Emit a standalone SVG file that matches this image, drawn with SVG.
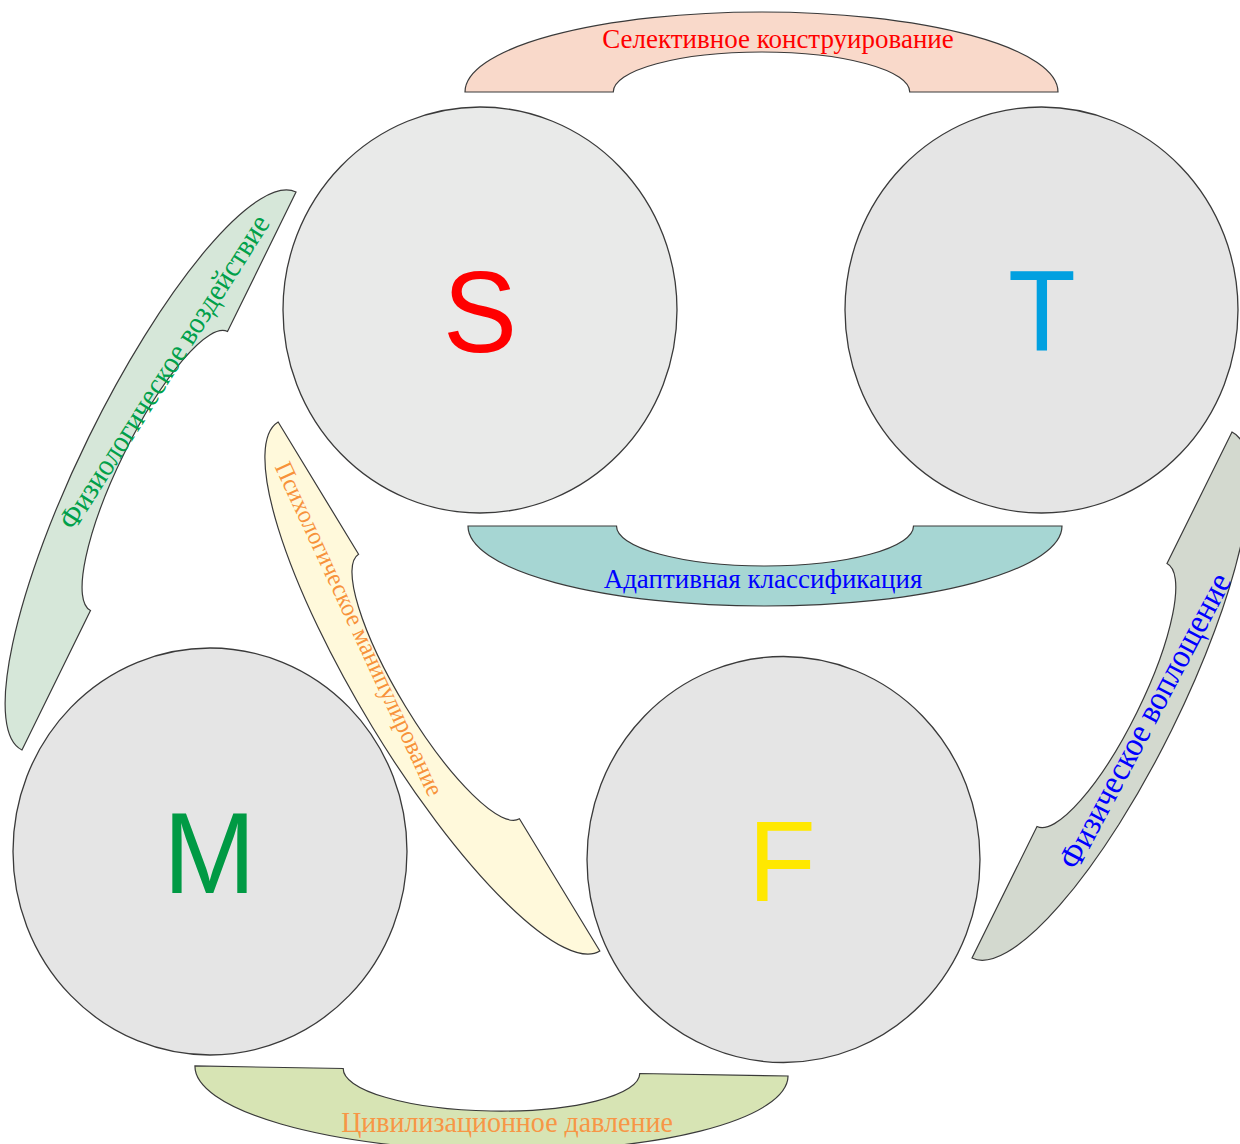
<svg xmlns="http://www.w3.org/2000/svg" width="1240" height="1144" viewBox="0 0 1240 1144">
  <style>
    .node { stroke: #3a3a3a; stroke-width: 1.3; }
    .band { stroke: #3a3a3a; stroke-width: 1.2; stroke-linejoin: miter; }
    .letter { font-family: "Liberation Sans", Arial, sans-serif; text-anchor: middle; }
    .label { font-family: "Liberation Serif", "Times New Roman", serif; text-anchor: middle; }
  </style>
  <rect width="1240" height="1144" fill="#ffffff"/>

  <!-- curved bands linking the four letters -->
  <g id="connectors">
    <g id="band-selective">
      <path class="band" fill="#F9D9CA" transform="translate(761.5,92)" d="M-296.5,0 A296.5,80 0 0 1 296.5,0 L148.25,0 A148.25,40 0 0 0 -148.25,0 Z"/>
      <text class="label" transform="translate(778,48) scale(1,1.04)" font-size="27" fill="#FF0000">Селективное конструирование</text>
    </g>
    <g id="band-adaptive">
      <path class="band" fill="#A6D6D3" transform="translate(765,526) rotate(180)" d="M-297,0 A297,80 0 0 1 297,0 L148.5,0 A148.5,40 0 0 0 -148.5,0 Z"/>
      <text class="label" transform="translate(763,588) scale(1,1.04)" font-size="27" fill="#0000FF">Адаптивная классификация</text>
    </g>
    <g id="band-civil">
      <path class="band" fill="#D7E4B4" transform="translate(491.5,1071) rotate(180.97)" d="M-296.6,0 A296.6,80 0 0 1 296.6,0 L148.3,0 A148.3,40 0 0 0 -148.3,0 Z"/>
      <text class="label" transform="translate(507,1132) scale(1,1.04)" font-size="28" fill="#F79646">Цивилизационное давление</text>
    </g>
    <g id="band-physio">
      <path class="band" fill="#D6E7D9" transform="translate(159,471) rotate(-63.84)" d="M-310.8,0 A310.8,78 0 0 1 310.8,0 L155.4,0 A155.4,39 0 0 0 -155.4,0 Z"/>
      <text class="label" transform="translate(164,372) rotate(-57.5) scale(0.93,1)" x="0" y="10" font-size="30.5" fill="#00A04A">Физиологическое воздействие</text>
    </g>
    <g id="band-psycho">
      <path class="band" fill="#FFF9DB" transform="translate(439,686.5) rotate(-121.3)" d="M-309.6,0 A309.6,78 0 0 1 309.6,0 L154.8,0 A154.8,39 0 0 0 -154.8,0 Z"/>
      <text class="label" transform="translate(359,629) rotate(65) scale(0.96,1)" x="0" y="8" font-size="25" fill="#F7923A">Психологическое манипулирование</text>
    </g>
    <g id="band-physical">
      <path class="band" fill="#D3D9CF" transform="translate(1102,695) rotate(116.3)" d="M-293.4,0 A293.4,78 0 0 1 293.4,0 L146.7,0 A146.7,39 0 0 0 -146.7,0 Z"/>
      <text class="label" transform="translate(1145,721) rotate(-62) scale(0.92,1)" x="0" y="11" font-size="34" fill="#0000FF">Физическое воплощение</text>
    </g>
  </g>

  <!-- letter nodes -->
  <g id="node-S">
    <ellipse class="node" cx="480" cy="310" rx="197" ry="203" fill="#E9EAE9"/>
    <text class="letter" transform="translate(480,352) scale(1,1.04)" font-size="111" fill="#FF0000">S</text>
  </g>
  <g id="node-T">
    <ellipse class="node" cx="1041.5" cy="310" rx="196.5" ry="203" fill="#E5E5E5"/>
    <text class="letter" transform="translate(1042,351) scale(1,1.04)" font-size="111" fill="#00A0E0">T</text>
  </g>
  <g id="node-M">
    <ellipse class="node" cx="210" cy="851.5" rx="197" ry="203.5" fill="#E5E5E5"/>
    <text class="letter" transform="translate(209.5,893) scale(1,1.04)" font-size="111" fill="#009A44">M</text>
  </g>
  <g id="node-F">
    <ellipse class="node" cx="783.5" cy="859.5" rx="196.5" ry="203" fill="#E5E5E5"/>
    <text class="letter" transform="translate(782,901) scale(1,1.04)" font-size="111" fill="#FFE800">F</text>
  </g>
</svg>
